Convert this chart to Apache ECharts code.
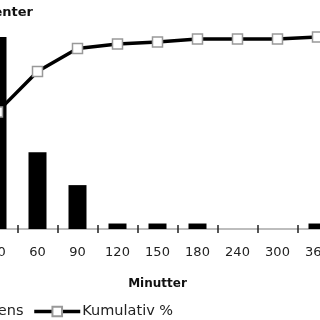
<!DOCTYPE html>
<html>
<head>
<meta charset="utf-8">
<script src="https://cdn.jsdelivr.net/npm/echarts@6/dist/echarts.min.js"></script>
<style>
html,body{margin:0;padding:0;width:320px;height:320px;overflow:hidden;background:#fff;}
#c{position:absolute;left:-120px;top:0;width:520px;height:320px;}
</style>
</head>
<body>
<div id="c"></div>
<script>
var categories = ['30','60','90','120','150','180','240','300','360'];
var frekvens = [40, 14, 8, 1, 1, 1, 0, 0, 1];
var kumulativ = [61, 82, 94, 96.4, 97.4, 99, 99, 99, 100];
var leftTicks = {min: 0, max: 35, interval: 5};
var rightTicks = {min: 0, max: 100, interval: 20};

var chart = echarts.init(document.getElementById('c'), null, {renderer: 'canvas'});
var font = 'DejaVu Sans';
chart.setOption({
  animation: false,
  backgroundColor: '#fff',
  title: {
    text: 'Pasienter',
    left: 153,
    top: 6,
    padding: 0,
    textAlign: 'right',
    textStyle: {fontFamily: font, fontSize: 13, fontWeight: 'bold', color: '#111'}
  },
  legend: {
    left: 31,
    top: 304,
    padding: 0,
    itemGap: 9,
    itemWidth: 46,
    itemHeight: 12,
    lineStyle: {width: 3.5, color: '#000'},
    textStyle: {fontFamily: font, fontSize: 14.5, color: '#222', padding: [0, 0, 0, -3]},
    data: ['Frekvens', 'Kumulativ %']
  },
  grid: {left: 97.5, right: 62.5, top: 37, bottom: 91},
  xAxis: [{
    type: 'category',
    data: categories,
    position: 'bottom',
    boundaryGap: true,
    name: 'Minutter',
    nameLocation: 'middle',
    nameGap: 49,
    nameTextStyle: {fontFamily: font, fontSize: 12, fontWeight: 'bold', color: '#111'},
    axisLine: {lineStyle: {color: '#a8a8a8', width: 1.5}},
    axisTick: {show: true, interval: 0, length: 4, lineStyle: {color: '#222', width: 1.5}},
    axisLabel: {fontFamily: font, fontSize: 13, color: '#222', margin: 17},
    splitLine: {show: false}
  }, {
    type: 'category',
    data: categories,
    position: 'bottom',
    boundaryGap: true,
    axisLine: {show: false},
    axisTick: {show: true, interval: 0, inside: true, length: 4, lineStyle: {color: '#222', width: 1.5}},
    axisLabel: {show: false},
    splitLine: {show: false}
  }],
  yAxis: [{
    type: 'value',
    min: leftTicks.min, max: leftTicks.max, interval: leftTicks.interval,
    position: 'left',
    axisLine: {show: true, lineStyle: {color: '#9a9a9a'}},
    axisLabel: {fontFamily: font, fontSize: 13, color: '#222'},
    splitLine: {show: false}
  }, {
    type: 'value',
    min: rightTicks.min, max: rightTicks.max, interval: rightTicks.interval,
    position: 'right',
    axisLine: {show: true, lineStyle: {color: '#9a9a9a'}},
    axisLabel: {fontFamily: font, fontSize: 13, color: '#222'},
    splitLine: {show: false}
  }],
  series: [{
    name: 'Frekvens',
    type: 'bar',
    xAxisIndex: 0,
    yAxisIndex: 0,
    data: frekvens,
    barWidth: 18,
    clip: true,
    itemStyle: {color: '#000'},
    z: 2
  }, {
    name: 'Kumulativ %',
    type: 'line',
    xAxisIndex: 0,
    yAxisIndex: 1,
    data: kumulativ,
    symbol: 'rect',
    symbolSize: 10,
    clip: false,
    lineStyle: {color: '#000', width: 3.5},
    itemStyle: {color: '#fff', borderColor: '#999', borderWidth: 1.5},
    z: 3
  }]
});
</script>
</body>
</html>
